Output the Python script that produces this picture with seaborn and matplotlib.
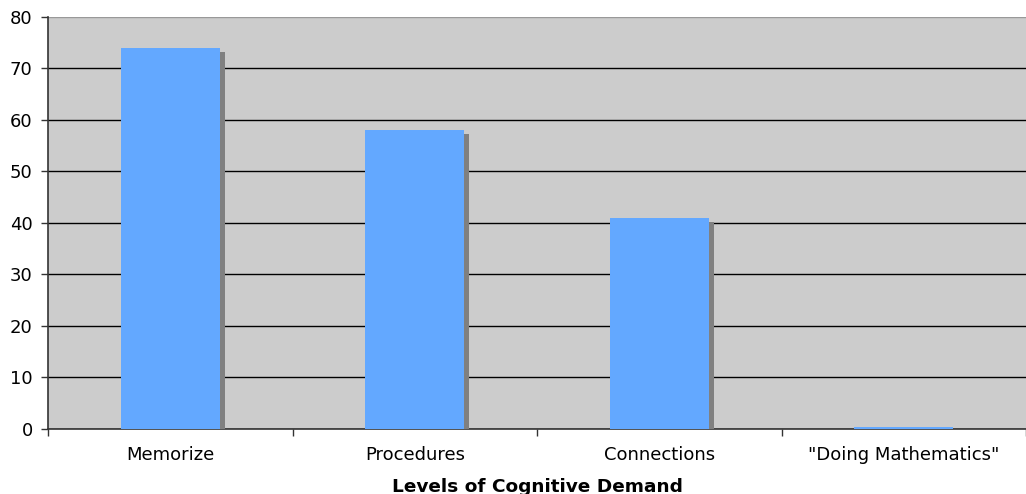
import matplotlib
matplotlib.use('Agg')
import matplotlib.pyplot as plt
import matplotlib.patheffects as pe
import seaborn as sns
import pandas as pd
import numpy as np

# data
categories = ['Memorize', 'Procedures', 'Connections', '"Doing Mathematics"']
counts = [74, 58, 41, 0.4]
y_ticks = [0, 10, 20, 30, 40, 50, 60, 70, 80]

df = pd.DataFrame({'level': categories, 'count': counts})

sns.set_style('white')
plt.rcParams['font.family'] = ['DejaVu Sans']
plt.rcParams['text.color'] = 'black'
plt.rcParams['xtick.color'] = '#333333'
plt.rcParams['ytick.color'] = '#333333'

fig = plt.figure(figsize=(10.26, 4.94), dpi=100)
ax = fig.add_axes([0.0468, 0.1316, 0.9532, 0.834])
ax.set_facecolor('#CCCCCC')

sns.barplot(data=df, x='level', y='count', color='#63A8FF', saturation=1,
            width=0.405, linewidth=0, ax=ax, zorder=3)

# drop shadow like the old spreadsheet chart
for p in ax.patches:
    p.set_path_effects([pe.SimplePatchShadow(offset=(3.5, -3), shadow_rgbFace='#808080',
                                             alpha=1.0), pe.Normal()])

ax.set_ylim(0, 80)
ax.set_xlim(-0.5, len(categories) - 0.5)
ax.set_yticks(y_ticks)
ax.yaxis.grid(True, color='black', linewidth=1)
ax.yaxis.get_gridlines()[-1].set_color('#999999')
ax.set_axisbelow(True)

# category boundary ticks on x axis
ax.set_xticks(np.arange(-0.5, len(categories)), minor=True)
ax.tick_params(axis='x', which='major', bottom=False, length=0, pad=12, labelsize=13,
               labelcolor='black')
ax.tick_params(axis='x', which='minor', bottom=True, length=5, direction='out', width=1)
ax.tick_params(axis='y', left=True, length=5, direction='out', width=1, labelsize=13,
               pad=6, labelcolor='black')

ax.spines['left'].set_color('#333333')
ax.spines['bottom'].set_color('#333333')
ax.spines['top'].set_visible(False)
ax.spines['right'].set_visible(False)
ax.spines['left'].set_linewidth(1.2)
ax.spines['bottom'].set_linewidth(1.2)

ax.set_ylabel('')
ax.set_xlabel('Levels of Cognitive Demand', fontsize=13.3, fontweight='bold', labelpad=10,
              color='black')

plt.savefig('out.png', dpi=100)
